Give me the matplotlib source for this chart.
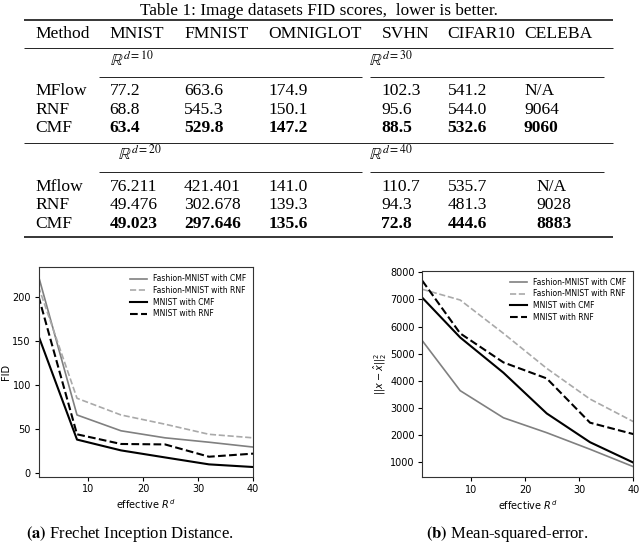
import matplotlib
matplotlib.use("Agg")
import matplotlib.pyplot as plt

# ---- table data ----
datasets = ['MNIST', 'FMNIST', 'OMNIGLOT', 'SVHN', 'CIFAR10', 'CELEBA']
methods_top = ['MFlow', 'RNF', 'CMF']
methods_bot = ['Mflow', 'RNF', 'CMF']
dims_top = ['10', '30']
dims_bot = ['20', '40']
scores_top = [['77.2', '663.6', '174.9', '102.3', '541.2', 'N/A'],
              ['68.8', '545.3', '150.1', '95.6', '544.0', '9064'],
              ['63.4', '529.8', '147.2', '88.5', '532.6', '9060']]
scores_bot = [['76.211', '421.401', '141.0', '110.7', '535.7', 'N/A'],
              ['49.476', '302.678', '139.3', '94.3', '481.3', '9028'],
              ['49.023', '297.646', '135.6', '72.8', '444.6', '8883']]

# ---- line chart data ----
x_dims = [1, 8, 16, 24, 32, 40]
fid_fmnist_cmf = [224, 66, 48, 40, 35, 29.5]
fid_fmnist_rnf = [212, 85, 66, 55.5, 44, 40]
fid_mnist_cmf = [156, 38, 25.7, 17.7, 9.8, 6.8]
fid_mnist_rnf = [201, 44, 33, 32.5, 18.5, 22]
mse_fmnist_cmf = [5480, 3640, 2640, 2090, 1480, 840]
mse_fmnist_rnf = [7375, 6980, 5750, 4460, 3330, 2500]
mse_mnist_cmf = [7065, 5600, 4300, 2800, 1740, 990]
mse_mnist_rnf = [7690, 5750, 4680, 4090, 2460, 2040]
labels = ['Fashion-MNIST with CMF', 'Fashion-MNIST with RNF',
          'MNIST with CMF', 'MNIST with RNF']

W, H = 640, 544
fig = plt.figure(figsize=(6.4, 5.44), dpi=100)

# overlay axes in pixel coords for the table and captions
tab = fig.add_axes([0, 0, 1, 1])
tab.set_xlim(0, W)
tab.set_ylim(H, 0)
tab.axis('off')

serif = 'Liberation Serif'
fs = 12.6
col_x = [109.5, 184, 268.5, 381.5, 447.5, 524]

tab.text(318.7, 15.3, 'Table 1: Image datasets FID scores,  lower is better.',
         family=serif, fontsize=12.4, ha='center', va='baseline')
tab.hlines(19.5, 24, 612.7, color='black', lw=1.1)
tab.text(35.7, 37.7, 'Method', family=serif, fontsize=fs, va='baseline')
for cx, name in zip(col_x, datasets):
    tab.text(cx, 37.7, name, family=serif, fontsize=fs, va='baseline')
tab.hlines(47.7, 24, 612.7, color='black', lw=0.6)


def block(y_dim, y_rule, y_rows, dims, dim_x, methods, scores, last_x):
    for dx, d in zip(dim_x, dims):
        tab.text(dx, y_dim, r'$\mathbb{R}^{d=%s}$' % d, family=serif,
                 math_fontfamily='stix', fontsize=12, va='baseline')
    tab.hlines(y_rule, 99, 361.7, color='black', lw=0.6)
    tab.hlines(y_rule, 370, 604, color='black', lw=0.6)
    xs = col_x[:-1] + [last_x]
    for i, (m, row) in enumerate(zip(methods, scores)):
        wt = 'bold' if m == 'CMF' else 'normal'
        tab.text(35.7, y_rows[i], m, family=serif, fontsize=fs, va='baseline')
        for cx, v in zip(xs, row):
            tab.text(cx, y_rows[i], v, family=serif, fontsize=fs,
                     weight=wt, va='baseline')


block(66.5, 77.3, [95, 113.7, 132.4], dims_top, [110, 369],
      methods_top, scores_top, 524)
tab.hlines(143.3, 24, 612.7, color='black', lw=0.6)
block(160, 172.3, [190.7, 209.3, 227.9], dims_bot, [118, 369],
      methods_bot, scores_bot, 536)
tab.hlines(237.3, 24, 612.7, color='black', lw=1.1)

# ---- line charts ----
styles = [dict(color='gray', ls='-', lw=1.2),
          dict(color='darkgray', ls='--', lw=1.2),
          dict(color='black', ls='-', lw=1.5),
          dict(color='black', ls='--', lw=1.5)]

ax1 = fig.add_axes([38.5 / W, 1 - 476.5 / H, 214.5 / W, 209.2 / H])
ax2 = fig.add_axes([422.3 / W, 1 - 477.3 / H, 211 / W, 206.6 / H])

for ax, series in [(ax1, [fid_fmnist_cmf, fid_fmnist_rnf, fid_mnist_cmf, fid_mnist_rnf]),
                   (ax2, [mse_fmnist_cmf, mse_fmnist_rnf, mse_mnist_cmf, mse_mnist_rnf])]:
    for ys, st, lab in zip(series, styles, labels):
        ax.plot(x_dims, ys, label=lab, **st)
    ax.set_xlim(1, 40)
    ax.set_xticks([10, 20, 30, 40])
    ax.tick_params(labelsize=7, length=3, pad=2.5)
    ax.set_xlabel('effective $R^d$', fontsize=7, labelpad=2)
    ax.legend(loc='upper right', frameon=False, fontsize=5.5,
              labelspacing=0.35, handlelength=2.2)
    for sp in ax.spines.values():
        sp.set_color('#333333')

ax1.set_ylim(-4, 234)
ax1.set_yticks([0, 50, 100, 150, 200])
ax1.set_ylabel('FID', fontsize=7, labelpad=1)
ax2.set_ylim(447, 8060)
ax2.set_yticks(range(1000, 8001, 1000))
ax2.set_ylabel(r'$||x - \hat{x}||_2^2$', fontsize=7, labelpad=1)

# captions
tab.text(129.7, 538.5, r'$\mathbf{(a)}$ Frechet Inception Distance.', family=serif,
         math_fontfamily='stix', fontsize=12, ha='center', va='baseline')
tab.text(507, 538.5, r'$\mathbf{(b)}$ Mean-squared-error.', family=serif,
         math_fontfamily='stix', fontsize=12, ha='center', va='baseline')

fig.savefig('out.png', dpi=100)
